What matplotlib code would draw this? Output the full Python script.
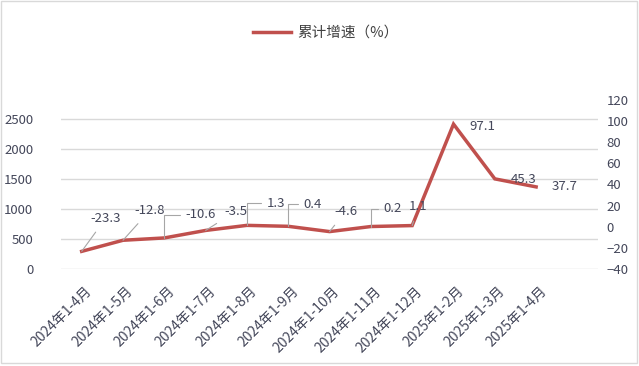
import matplotlib.pyplot as plt
import matplotlib.transforms as mtransforms
from matplotlib.patches import Rectangle

plt.rcParams['font.family'] = ['Noto Sans CJK SC', 'DejaVu Sans']

# data
months = ['2024年1-4月', '2024年1-5月', '2024年1-6月', '2024年1-7月', '2024年1-8月',
          '2024年1-9月', '2024年1-10月', '2024年1-11月', '2024年1-12月',
          '2025年1-2月', '2025年1-3月', '2025年1-4月']
growth = [-23.3, -12.8, -10.6, -3.5, 1.3, 0.4, -4.6, 0.2, 1.1, 97.1, 45.3, 37.7]

# label offsets in pixels (dx, dy) and whether leader line is elbow shaped
offsets = [(24, 33), (27, 30), (36, 23), (30, 19), (29, 22), (24, 22),
           (16, 20), (22, 18), (6, 19), (29, -2), (29, -1), (28, 0)]
leader = ['straight', 'straight', 'elbow', 'straight', 'elbow', 'elbow',
          'straight', 'elbow', 'straight', None, None, None]

line_color = '#C0504D'
text_color = '#44475a'

fig = plt.figure(figsize=(6.39, 3.66), dpi=100)
ax = fig.add_axes([0.0955, 0.265, 0.8405, 0.462])
ax2 = ax.twinx()

x = list(range(len(months)))

# left (empty) axis with gridlines
ax.set_ylim(0, 2817)
ax.set_yticks([0, 500, 1000, 1500, 2000, 2500])
ax.grid(axis='y', color='#d9d9d9', linewidth=1)
ax.set_axisbelow(True)
ax.set_xlim(-0.5, 12.5)
ax.set_xticks(x)
ax.set_xticklabels(months, rotation=45, ha='right', va='center',
                   rotation_mode='anchor', fontsize=10, color=text_color)
ax.tick_params(axis='x', length=0, pad=10)
shift = mtransforms.ScaledTranslation(8 / 100, -6 / 100, fig.dpi_scale_trans)
for lbl in ax.get_xticklabels():
    lbl.set_transform(lbl.get_transform() + shift)
ax.tick_params(axis='y', length=0, labelsize=9.5, labelcolor=text_color, pad=20)
for s in ax.spines.values():
    s.set_visible(False)

ax2.set_ylim(-40, 120)
ax2.set_yticks(range(-40, 121, 20))
ax2.tick_params(axis='y', length=0, labelsize=9.5, labelcolor=text_color, pad=6)
for s in ax2.spines.values():
    s.set_visible(False)

ax2.plot(x, growth, color=line_color, linewidth=2.5, label='累计增速（%）',
         solid_joinstyle='miter')

for xi, v, (dx, dy), kind in zip(x, growth, offsets, leader):
    props = None
    if kind == 'straight':
        props = dict(arrowstyle='-', color='#a6a6a6', lw=0.8, shrinkA=4, shrinkB=0)
    elif kind == 'elbow':
        props = dict(arrowstyle='-', color='#a6a6a6', lw=0.8, shrinkA=2, shrinkB=0,
                     relpos=(0, 0.5),
                     connectionstyle='angle,angleA=0,angleB=90,rad=0')
    ax2.annotate(f'{v:g}', xy=(xi, v), xytext=(dx, dy), textcoords='offset pixels',
                 ha='center', va='center', fontsize=9.5, color=text_color,
                 arrowprops=props)

leg = fig.legend(loc='center', bbox_to_anchor=(0.51, 0.91), frameon=False,
                 fontsize=10.5, handlelength=2.6, handletextpad=0.4)
for t in leg.get_texts():
    t.set_color('#404040')

fig.patches.append(Rectangle((0.002, 0.008), 0.995, 0.99, transform=fig.transFigure,
                             fill=False, edgecolor='#d9d9d9', linewidth=1))

fig.savefig('out.png', dpi=100)
